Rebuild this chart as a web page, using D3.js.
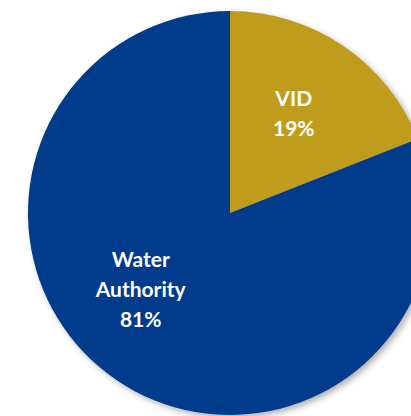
<!DOCTYPE html>
<html>
<head>
<meta charset="utf-8">
<script src="https://cdn.jsdelivr.net/npm/d3@7"></script>
<style>
  html, body { margin: 0; padding: 0; background: #fff; }
  svg { display: block; }
</style>
</head>
<body>
<div id="chart"></div>
<script>
const labels = ['VID', 'Water Authority']
const values = [19, 81]
const colors = ['#BF9C1F', '#033B8C']

const width = 411, height = 416
const cx = 230, cy = 213, radius = 202

const data = labels.map((l, i) => ({label: l, value: values[i], color: colors[i]}))

const svg = d3.select('#chart').append('svg')
  .attr('width', width)
  .attr('height', height)

const defs = svg.append('defs')
const f = defs.append('filter').attr('id', 'shadow')
  .attr('x', '-10%').attr('y', '-10%').attr('width', '130%').attr('height', '130%')
f.append('feDropShadow')
  .attr('dx', 3).attr('dy', 3).attr('stdDeviation', 3)
  .attr('flood-color', '#000').attr('flood-opacity', 0.3)

const pie = d3.pie().sort(null).value(d => d.value)
const arc = d3.arc().innerRadius(0).outerRadius(radius)

const g = svg.append('g').attr('transform', `translate(${cx},${cy})`)

g.append('g').attr('filter', 'url(#shadow)')
  .selectAll('path').data(pie(data)).enter().append('path')
    .attr('d', arc)
    .attr('fill', d => d.data.color)

// label placement, nudged like the best-fit labels of the original
const lr = 118
const nudge = [-1.5, 15]

const lbl = g.selectAll('text.lbl').data(pie(data)).enter().append('text')
  .attr('class', 'lbl')
  .attr('transform', (d, i) => {
    const a = (d.startAngle + d.endAngle) / 2 + nudge[i] * Math.PI / 180
    return `translate(${Math.sin(a) * lr},${-Math.cos(a) * lr})`
  })
  .attr('text-anchor', 'middle')
  .attr('fill', '#fff')
  .style('font-family', 'Lato, "Open Sans", sans-serif')
  .style('font-weight', 'bold')
  .style('font-size', '21px')

lbl.each(function (d) {
  const lines = d.data.label.split(' ').concat([d.data.value + '%'])
  const t = d3.select(this)
  const lh = 30
  const start = -(lines.length - 1) * lh / 2 + 7
  lines.forEach((s, k) => {
    t.append('tspan').attr('x', 0).attr('y', start + k * lh).text(s)
  })
})
</script>
</body>
</html>
